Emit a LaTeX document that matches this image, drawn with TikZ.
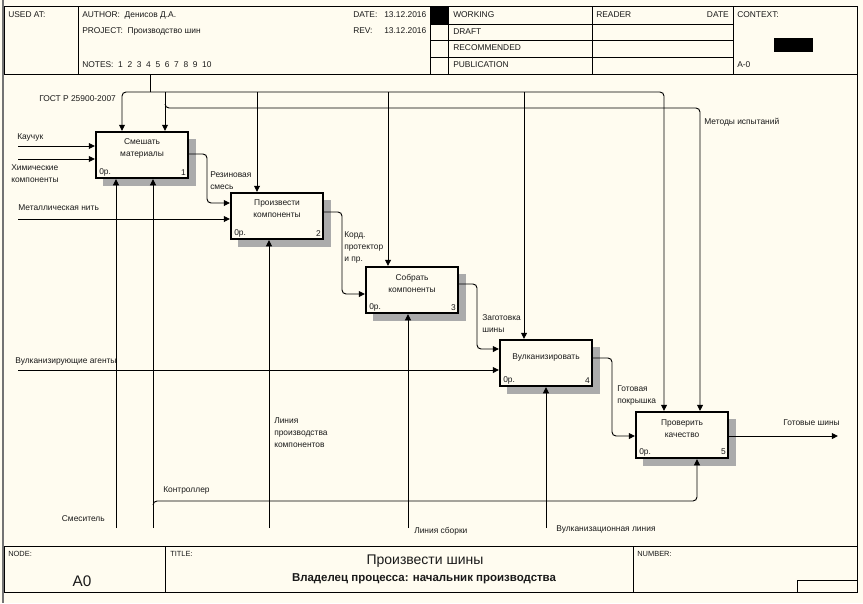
\documentclass[tikz,border=0pt]{standalone}
\usepackage{fontspec}
\setmainfont{Liberation Sans}
\usetikzlibrary{arrows.meta,calc}
\definecolor{bg}{HTML}{FFFCF0}
\definecolor{ink}{HTML}{1A1A1A}
\begin{document}
\begin{tikzpicture}[x=0.75pt,y=-0.75pt,
  txt/.style={font=\fontsize{6.3}{9}\selectfont, inner sep=0pt, align=left, text=ink, anchor=west},
  btxt/.style={font=\fontsize{6.3}{9}\selectfont, inner sep=0pt, align=center, text=ink},
  box/.style={draw=black, line width=1.6pt, fill=bg, minimum width=69pt, minimum height=34.5pt, inner sep=0pt, anchor=north west},
  shade/.style={fill=black!33},
  conn/.style={draw=black, line width=0.7pt, rounded corners=3pt},
  arr/.style={conn, -{Triangle[length=4.6pt,width=4.4pt]}},
  frame/.style={draw=black, line width=0.6pt}]
\useasboundingbox (0,0) rectangle (863,603);
\fill[bg] (0,0) rectangle (863,603);
% left border
\draw[line width=2.2pt, black!55] (3,0) -- (3,603);
% ---------- header ----------
\draw[frame] (4,6) rectangle (857,74);
\draw[frame] (78,6) -- (78,74);
\draw[frame] (430,6) -- (430,74);
\draw[frame] (448,6) -- (448,74);
\draw[frame] (592,6) -- (592,74);
\draw[frame] (733,6) -- (733,74);
\foreach \yy in {24,40,57} {\draw[frame] (430,\yy) -- (733,\yy);}
\fill[black] (430,6) rectangle (448,24);
\fill[black] (774,38) rectangle (813,52);
\node[txt] (usedat) at (8,15) {USED AT:};
\node[txt] (author) at (82,15) {AUTHOR:\ \ Денисов Д.А.};
\node[txt] (project) at (82,31) {PROJECT:\ \ Производство шин};
\node[txt] (notes) at (82,65) {NOTES:\ \ 1\ \ 2\ \ 3\ \ 4\ \ 5\ \ 6\ \ 7\ \ 8\ \ 9\ \ 10};
\node[txt] (date) at (353,15) {DATE:};
\node[txt] (dateval) at (384,15) {13.12.2016};
\node[txt] (rev) at (353,31) {REV:};
\node[txt] (revval) at (384,31) {13.12.2016};
\node[txt] (working) at (453,15) {WORKING};
\node[txt] (draft) at (453,32) {DRAFT};
\node[txt] (recomm) at (453,48) {RECOMMENDED};
\node[txt] (public) at (453,65) {PUBLICATION};
\node[txt] (reader) at (596,15) {READER};
\node[txt, anchor=east] (rdate) at (729,15) {DATE};
\node[txt] (context) at (737,15) {CONTEXT:};
\node[txt] (azero) at (737,65) {A-0};
% main area right border
\draw[frame] (857,74) -- (857,546);
% ---------- footer ----------
\draw[frame] (4,546) rectangle (857,592);
\draw[frame] (165,546) -- (165,592);
\draw[frame] (633,546) -- (633,592);
\draw[frame] (797,592) -- (797,580) -- (857,580);
\node[txt, font=\fontsize{5.6}{7}\selectfont] (nodelbl) at (8,554) {NODE:};
\node[txt, font=\fontsize{5.6}{7}\selectfont] (titlelbl) at (170,554) {TITLE:};
\node[txt, font=\fontsize{5.6}{7}\selectfont] (numlbl) at (637,554) {NUMBER:};
\node[btxt, font=\fontsize{11.5}{13}\selectfont] (nodeval) at (82,581) {A0};
\node[btxt, font=\fontsize{10.5}{12}\selectfont] (title) at (425,561) {Произвести шины};
\node[btxt, font=\fontsize{8.6}{10}\selectfont\bfseries] (owner) at (424,579) {Владелец процесса: начальник производства};
% ---------- boxes ----------
\foreach \n/\bx/\by in {1/95/131, 2/230/192, 3/365/266, 4/499/339, 5/635/411} {
  \fill[shade] ({\bx+92},{\by+8}) rectangle ({\bx+101},{\by+55});
  \fill[shade] ({\bx+8},{\by+46}) rectangle ({\bx+101},{\by+55});
}
\node[box] (b1) at (95,131) {};
\node[box] (b2) at (230,192) {};
\node[box] (b3) at (365,266) {};
\node[box] (b4) at (499,339) {};
\node[box] (b5) at (635,411) {};
\node[btxt] (t1) at ($(b1.north)+(0,17)$) {Смешать\\материалы};
\node[btxt] (t2) at ($(b2.north)+(0,17)$) {Произвести\\компоненты};
\node[btxt] (t3) at ($(b3.north)+(0,17)$) {Собрать\\компоненты};
\node[btxt] (t4) at ($(b4.north)+(0,18)$) {Вулканизировать};
\node[btxt] (t5) at ($(b5.north)+(0,18)$) {Проверить\\качество};
\foreach \n in {1,...,5} {
  \node[txt] (c\n) at ($(b\n.south west)+(4,-7)$) {0р.};
  \node[txt, anchor=east] (num\n) at ($(b\n.south east)+(-3,-7)$) {\n};
}
% ---------- inputs ----------
\coordinate (kin) at (18,146);
\coordinate (hin) at (18,159);
\coordinate (min) at (18,219);
\coordinate (vin) at (18,370);
\draw[arr] (kin) -- (b1.west |- kin);
\draw[arr] (hin) -- (b1.west |- hin);
\draw[arr] (min) -- (b2.west |- min);
\draw[arr] (vin) -- (b4.west |- vin);
\node[txt] (lk) at (17,137) {Каучук};
\node[txt] (lh) at (11,173.5) {Химические\\компоненты};
\node[txt] (lm) at (18,208) {Металлическая нить};
\node[txt] (lv) at (15,361) {Вулканизирующие агенты};
% ---------- outputs between boxes ----------
\draw[arr] (b1.east |- 0,154) -- (207,154) -- (207,203) -- (b2.west |- 0,203);
\draw[arr] (b2.east |- 0,212) -- (342,212) -- (342,294) -- (b3.west |- 0,294);
\draw[arr] (b3.east |- 0,284) -- (477,284) -- (477,349) -- (b4.west |- 0,349);
\draw[arr] (b4.east |- 0,358) -- (612,358) -- (612,436) -- (b5.west |- 0,436);
\coordinate (outend) at (838,436);
\draw[arr] (b5.east |- outend) -- (outend);
\node[txt] (lr) at (210,181) {Резиновая\\смесь};
\node[txt] (lc) at (344,247) {Корд.\\протектор\\и пр.};
\node[txt] (lz) at (482,324) {Заготовка\\шины};
\node[txt] (lg) at (617,395.5) {Готовая\\покрышка};
\node[txt] (lo) at (783,423) {Готовые шины};
% ---------- controls ----------
\coordinate (gtop) at (150,74);
\coordinate (gj) at (150,92);
\draw[conn] (gtop) -- (gj);
\draw[arr] (gj) -- (122,92) -- (b1.north -| 122,0);
\draw[arr] (gj) -- (664,92) -- (b5.north -| 664,0);
\draw[arr] (257,92) -- (b2.north -| 257,0);
\draw[arr] (388,92) -- (b3.north -| 388,0);
\draw[arr] (524,92) -- (b4.north -| 524,0);
\coordinate (mtop) at (165,92);
\draw[arr] (mtop) -- (b1.north -| mtop);
\draw[arr] (165,104) |- (700,108) -- (b5.north -| 700,0);
\node[txt] (lgost) at (39,99) {ГОСТ Р 25900-2007};
\node[txt] (lmet) at (704,122) {Методы испытаний};
% ---------- mechanisms ----------
\coordinate (s1) at (116,528);
\coordinate (s2) at (153,528);
\coordinate (s3) at (269,528);
\coordinate (s4) at (408,528);
\coordinate (s5) at (546,528);
\draw[arr] (s1) -- (b1.south -| s1);
\draw[arr] (s2) -- (b1.south -| s2);
\draw[arr] (s3) -- (b2.south -| s3);
\draw[arr] (s4) -- (b3.south -| s4);
\draw[arr] (s5) -- (b4.south -| s5);
\draw[arr] (153,505) |- (697,501) -- (b5.south -| 697,0);
\node[txt, anchor=east] (lsm) at (105,519) {Смеситель};
\node[txt] (lctl) at (163,490) {Контроллер};
\node[txt] (llp) at (274,433) {Линия\\производства\\компонентов};
\node[txt] (lls) at (414,531) {Линия сборки};
\node[txt] (llv) at (556,529) {Вулканизационная линия};
\end{tikzpicture}
\end{document}
